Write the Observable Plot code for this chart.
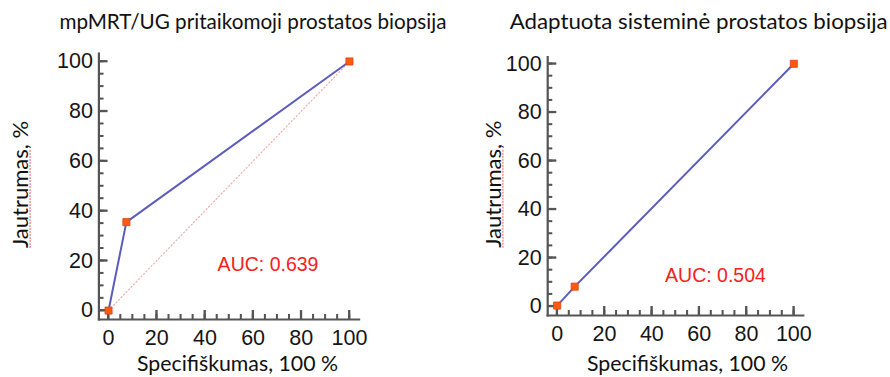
<!DOCTYPE html>
<html><head><meta charset="utf-8">
<script src="https://cdn.jsdelivr.net/npm/d3@7"></script>
<script src="https://cdn.jsdelivr.net/npm/@observablehq/plot@0.6"></script>
<style>
body{margin:0;background:#fff}
#wrap{position:relative;width:890px;height:377px;overflow:hidden}
#wrap svg{position:absolute;top:0}
</style>
</head><body><div id="wrap"></div>
<script>
// ---- data ----
const panelTitles = ["mpMRT/UG pritaikomoji prostatos biopsija", "Adaptuota sisteminė prostatos biopsija"];
const yAxisLabelMain = "Jautrumas";
const yAxisLabelRest = ", %";
const xAxisLabel = "Specifiškumas, 100 %";
const rocX_mpmrt = [0, 7.4, 100];
const rocY_mpmrt = [0, 35.5, 100];
const rocX_sys = [0, 7.4, 100];
const rocY_sys = [0.3, 8.1, 100];
const diagX = [0, 100];
const diagY = [0, 100];
const aucTexts = ["AUC: 0.639", "AUC: 0.504"];
const majorTicks = [0, 20, 40, 60, 80, 100];
const minorTicks = [0, 5, 10, 15, 20, 25, 30, 35, 40, 45, 50, 55, 60, 65, 70, 75, 80, 85, 90, 95, 100];

const toRows = (xs, ys) => xs.map((x, i) => ({x, y: ys[i]}));
const axisColor = "#555555";
const W = 445, H = 377;
const NS = "http://www.w3.org/2000/svg";
const blank = () => "";

function splitLabel(index, scales, values, dims, context, next) {
  const g = next(index, scales, values, dims, context);
  g.querySelectorAll("text").forEach(t => {
    t.textContent = "";
    const a = document.createElementNS(NS, "tspan");
    a.textContent = yAxisLabelMain;
    a.setAttribute("class", "ulab");
    const b = document.createElementNS(NS, "tspan");
    b.textContent = yAxisLabelRest;
    t.append(a, b);
  });
  return g;
}
function fitText(len) {
  return function(index, scales, values, dims, context, next) {
    const g = next(index, scales, values, dims, context);
    g.querySelectorAll("text").forEach(t => {
      t.setAttribute("textLength", len);
      t.setAttribute("lengthAdjust", "spacingAndGlyphs");
    });
    return g;
  };
}

function panel(cfg) {
  const xd = cfg.xDomain, yd = cfg.yDomain;
  const roc = toRows(cfg.rx, cfg.ry);
  const marks = [
    Plot.frame({anchor: "left", stroke: axisColor, strokeWidth: 2.2}),
    Plot.frame({anchor: "bottom", stroke: axisColor, strokeWidth: 2.2}),
    // inward ticks: axis ticks shifted into the frame
    Plot.axisY(minorTicks, {anchor: "left", tickSize: 5, dx: 5, tickFormat: blank, stroke: axisColor, strokeWidth: 1.5, label: null}),
    Plot.axisY(majorTicks, {anchor: "left", tickSize: 9, dx: 9, tickFormat: blank, stroke: axisColor, strokeWidth: 1.8, label: null}),
    Plot.axisX(minorTicks, {anchor: "bottom", tickSize: 5, dy: -5, tickFormat: blank, stroke: axisColor, strokeWidth: 1.5, label: null}),
    Plot.axisX(majorTicks, {anchor: "bottom", tickSize: 9, dy: -9, tickFormat: blank, stroke: axisColor, strokeWidth: 1.8, label: null}),
    Plot.axisY(majorTicks, {tickSize: 0, tickPadding: 6, fontSize: 21.5, fontFamily: "Liberation Sans", fill: "#151515", label: null}),
    Plot.axisX(majorTicks, {tickSize: 0, tickPadding: 10, fontSize: 21.5, fontFamily: "Liberation Sans", fill: "#151515", label: null})
  ];
  if (cfg.diag) marks.push(Plot.line(toRows(diagX, diagY), {x: "x", y: "y", stroke: "#eeb0b0", strokeWidth: 1.2, strokeDasharray: "1.2,2.4"}));
  marks.push(
    Plot.line(roc, {x: "x", y: "y", stroke: "#5c5cbc", strokeWidth: 2}),
    Plot.dot(roc, {x: "x", y: "y", symbol: "square", r: 4, fill: "#ff5a12", stroke: "#d8420e", strokeWidth: 0.8}),
    Plot.text([cfg.auc], {x: cfg.aucX, y: cfg.aucY, fill: "#f52020", fontSize: 19.5, fontFamily: "Liberation Sans"}),
    Plot.text([cfg.title], {frameAnchor: "top-left", dx: cfg.titleDx, dy: cfg.titleDy, textAnchor: "start", lineAnchor: "middle", fontSize: 20.5, fontFamily: "Lato", fill: "#111", render: fitText(cfg.titleLen)}),
    Plot.text([yAxisLabelMain + yAxisLabelRest], {frameAnchor: "left", dx: cfg.yLabDx, dy: cfg.yLabDy, rotate: -90, textAnchor: "middle", lineAnchor: "middle", fontSize: 22, fontFamily: "Lato", fill: "#111", render: splitLabel}),
    Plot.text([xAxisLabel], {frameAnchor: "bottom", dx: cfg.xLabDx, dy: cfg.xLabDy, textAnchor: "middle", lineAnchor: "middle", fontSize: 21, fontFamily: "Lato", fill: "#111", render: fitText(201)})
  );
  const chart = Plot.plot({
    width: W, height: H,
    marginLeft: cfg.ml, marginRight: cfg.mr, marginTop: cfg.mt, marginBottom: cfg.mb,
    x: {domain: xd, label: null},
    y: {domain: yd, label: null},
    style: {background: "transparent", overflow: "visible"},
    marks
  });
  // also draw the inward ticks last, on top, through the chart's own scales
  const sx = chart.scale("x"), sy = chart.scale("y");
  const x0 = sx.apply(xd[0]), y0 = sy.apply(yd[0]);
  const g = document.createElementNS(NS, "g");
  g.setAttribute("style", `stroke:${axisColor};fill:none`);
  const addLine = (x1, y1, x2, y2, w) => {
    const l = document.createElementNS(NS, "line");
    l.setAttribute("x1", x1); l.setAttribute("y1", y1);
    l.setAttribute("x2", x2); l.setAttribute("y2", y2);
    l.setAttribute("style", `stroke:${axisColor};stroke-width:${w}px`);
    g.append(l);
  };
  for (const [arr, len, w] of [[minorTicks, 5, 1.5], [majorTicks, 9, 1.8]]) {
    for (const v of arr) {
      addLine(x0, sy.apply(v), x0 + len, sy.apply(v), w);
      addLine(sx.apply(v), y0, sx.apply(v), y0 - len, w);
    }
  }
  chart.append(g);
  const dots = chart.querySelector('g[aria-label="dot"]');
  if (dots) chart.append(dots);
  chart.style.left = cfg.left + "px";
  return chart;
}

const wrap = document.getElementById("wrap");
wrap.append(panel({
  left: 0, title: panelTitles[0], titleLen: 387, rx: rocX_mpmrt, ry: rocY_mpmrt, diag: true, auc: aucTexts[0], aucX: 66.2, aucY: 18.3,
  xDomain: [-4, 104], yDomain: [-3.6, 103.2],
  ml: 98.4, mr: 86.4, mt: 53, mb: 58,
  titleDx: -39.5, titleDy: -31.4, yLabDx: -78, yLabDy: -2, xLabDx: 8.5, xLabDy: 45
}));
wrap.append(panel({
  left: 445, title: panelTitles[1], titleLen: 378, rx: rocX_sys, ry: rocY_sys, diag: false, auc: aucTexts[1], aucX: 66.9, aucY: 12.7,
  xDomain: [-4, 104], yDomain: [-3.8, 102.8],
  ml: 102.2, mr: 87.2, mt: 56.5, mb: 62,
  titleDx: -38, titleDy: -35, yLabDx: -54, yLabDy: -2, xLabDx: 12, xLabDy: 49
}));

// spell-check style red underline beneath "Jautrumas"
document.querySelectorAll("tspan.ulab").forEach(ts => {
  const t = ts.parentNode;
  const bb = ts.getBBox();
  const p = document.createElementNS(NS, "path");
  const yb = bb.y + bb.height * 0.82 + 2;
  p.setAttribute("d", `M${bb.x},${yb}H${bb.x + bb.width}`);
  const tr = t.getAttribute("transform");
  if (tr) p.setAttribute("transform", tr);
  p.setAttribute("stroke", "#f07a7a");
  p.setAttribute("stroke-width", "1.2");
  p.setAttribute("stroke-dasharray", "2,1");
  p.setAttribute("fill", "none");
  t.parentNode.append(p);
});
</script>
</body></html>
